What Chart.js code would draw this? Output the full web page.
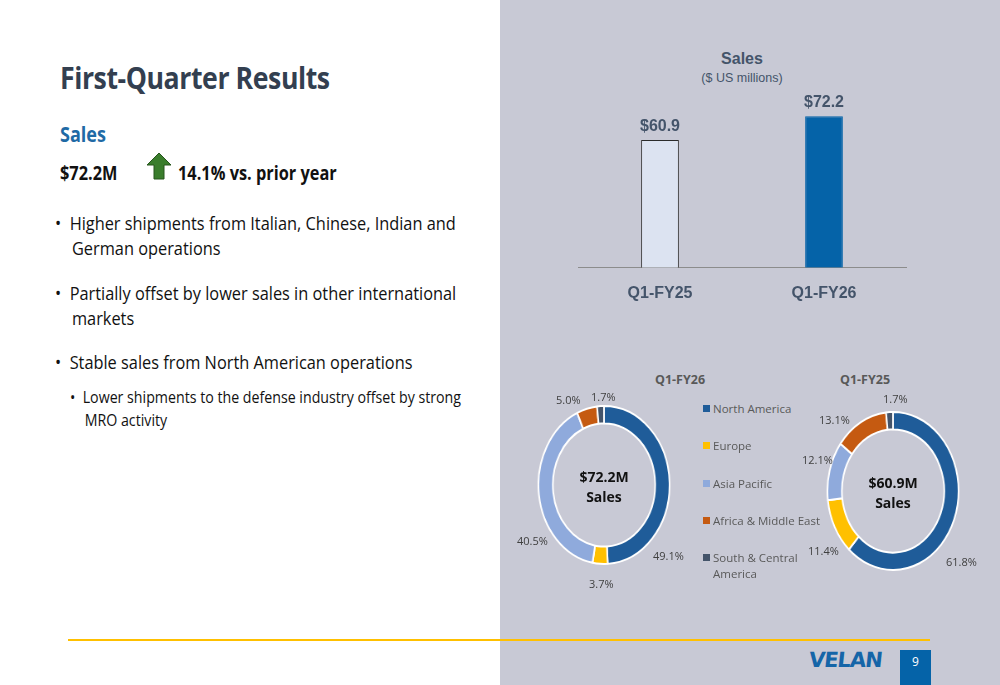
<!DOCTYPE html>
<html><head><meta charset="utf-8">
<script src="https://cdn.jsdelivr.net/npm/chart.js@4"></script>
<style>
body{margin:0;width:1000px;height:685px;position:relative;overflow:hidden;font-family:"Open Sans",Calibri,sans-serif;background:#fff}
.abs{position:absolute}
#right{left:500px;top:0;width:500px;height:685px;background:#c8c9d5}
h1{position:absolute;left:60px;top:56px;margin:0;font-size:31px;color:#333f50;font-weight:700;letter-spacing:-0.5px;transform:scaleX(0.86);transform-origin:left}
.cal{transform:scaleX(0.86);transform-origin:left}
.b{font-size:19px;color:#111;line-height:25px}
.pct{position:absolute;font-size:11px;color:#404040}
.leg{position:absolute;left:703px;font-size:11.5px;color:#595959;line-height:16px}
.leg i{display:inline-block;width:7px;height:7px;margin-right:3px;vertical-align:1px}
.ctr{position:absolute;font-weight:700;font-size:14px;text-align:center;line-height:20px;color:#111}
</style></head><body>
<div id="right" class="abs"></div>
<h1>First-Quarter Results</h1>
<div class="abs cal" style="left:60px;top:120px;font-size:21px;font-weight:700;color:#1f6aa5">Sales</div>
<div class="abs cal" style="left:60px;top:160px;font-size:19px;font-weight:700;color:#111">$72.2M</div>
<svg class="abs" style="left:146px;top:152px" width="26" height="28" viewBox="0 0 26 28"><path d="M13 1 L25 13 L18 13 L18 27 L8 27 L8 13 L1 13 Z" fill="#3a7d2c" stroke="#27561d" stroke-width="1"/></svg>
<div class="abs cal" style="left:178px;top:160px;font-size:19px;font-weight:700;color:#111">14.1% vs. prior year</div>
<div class="abs b cal" style="left:55px;top:211px">•&nbsp; Higher shipments from Italian, Chinese, Indian and<br>&nbsp;&nbsp;&nbsp;&nbsp;German operations</div>
<div class="abs b cal" style="left:55px;top:281px">•&nbsp; Partially offset by lower sales in other international<br>&nbsp;&nbsp;&nbsp;&nbsp;markets</div>
<div class="abs b cal" style="left:55px;top:350px">•&nbsp; Stable sales from North American operations</div>
<div class="abs cal" style="left:70px;top:385px;font-size:16.5px;line-height:23px;color:#111">•&nbsp; Lower shipments to the defense industry offset by strong<br>&nbsp;&nbsp;&nbsp;&nbsp;MRO activity</div>

<div class="abs" style="left:578px;top:50px;width:328px;text-align:center;font-family:Arial,'Liberation Sans';color:#44546a"><div style="font-weight:700;font-size:16px">Sales</div><div style="font-size:12.5px;margin-top:3px">($ US millions)</div></div>
<div class="abs" style="left:570px;top:80px;width:345px;height:239px"><canvas id="bar" width="345" height="239"></canvas></div>

<div class="abs" style="left:655px;top:371px;font-weight:700;font-size:12.5px;color:#595959">Q1-FY26</div>
<div class="abs" style="left:840px;top:371px;font-weight:700;font-size:12.5px;color:#595959">Q1-FY25</div>
<div class="abs" style="left:524px;top:405px;width:160px;height:160px;transform:scaleX(0.83);transform-origin:center"><canvas id="d1" width="160" height="160"></canvas></div>
<div class="abs" style="left:813px;top:411px;width:160px;height:160px;transform:scaleX(0.83);transform-origin:center"><canvas id="d2" width="160" height="160"></canvas></div>
<div class="ctr" style="left:564px;top:467px;width:80px">$72.2M<br>Sales</div>
<div class="ctr" style="left:853px;top:473px;width:80px">$60.9M<br>Sales</div>
<div id="legend"></div>
<div id="labels"></div>

<div class="abs" style="left:68px;top:639px;width:862px;height:2px;background:#ffc000"></div>
<div class="abs" style="left:809px;top:648px;font-family:'DejaVu Sans';font-weight:700;font-size:21px;color:#1565a8;letter-spacing:-1px;transform:skewX(-6deg)">VELAN</div>
<div class="abs" style="left:900px;top:650px;width:31px;height:35px;background:#0563a8;color:#fff;font-size:12px;text-align:center;line-height:24px">9</div>
<script>
const barLabels = ["Q1-FY25", "Q1-FY26"];
const barValues = [60.9, 72.2];
const regions = ["North America", "Europe", "Asia Pacific", "Africa & Middle East", "South & Central America"];
const regionColors = ["#1f5c99", "#ffc000", "#8faadc", "#c55a11", "#44546a"];
const fy26Share = [49.1, 3.7, 40.5, 5.0, 1.7];
const fy25Share = [61.8, 11.4, 12.1, 13.1, 1.7];
// label positions, in page pixels
const fy26LabelPos = [[653, 548], [589, 576], [517, 533], [556, 392], [591, 389]];
const fy25LabelPos = [[946, 554], [808, 543], [802, 452], [819, 412], [883, 391]];

const valueLabels = {
  id: "valueLabels",
  afterDatasetsDraw(chart) {
    const ctx = chart.ctx;
    ctx.save();
    ctx.font = "bold 16px Arial, 'Liberation Sans'";
    ctx.fillStyle = "#44546a";
    ctx.textAlign = "center";
    chart.getDatasetMeta(0).data.forEach((bar, i) => {
      ctx.fillText("$" + barValues[i].toFixed(1), bar.x, bar.y - 9);
    });
    ctx.restore();
  }
};

new Chart(document.getElementById("bar"), {
  type: "bar",
  data: {
    labels: barLabels,
    datasets: [{
      data: barValues,
      backgroundColor: ["#dce3f1", "#0563a8"],
      borderColor: ["#2b2b2b", "#0563a8"],
      borderWidth: 1,
      barPercentage: 0.23,
      categoryPercentage: 1
    }]
  },
  options: {
    responsive: false,
    animation: false,
    layout: { padding: { left: 8, right: 9, top: 20 } },
    plugins: { legend: { display: false }, tooltip: { enabled: false } },
    scales: {
      x: {
        grid: { display: false, drawTicks: false },
        border: { color: "#8c8c8c" },
        ticks: { color: "#44546a", padding: 16, font: { family: "Arial, 'Liberation Sans'", weight: "bold", size: 16 } }
      },
      y: { display: false, min: 0, max: 80 }
    }
  },
  plugins: [valueLabels]
});

function donut(id, values) {
  new Chart(document.getElementById(id), {
    type: "doughnut",
    data: { labels: regions, datasets: [{ data: values, backgroundColor: regionColors, borderColor: "#ffffff", borderWidth: 2 }] },
    options: {
      responsive: false,
      animation: false,
      cutout: "78%",
      plugins: { legend: { display: false }, tooltip: { enabled: false } }
    }
  });
}
donut("d1", fy26Share);
donut("d2", fy25Share);

let html = "";
fy26Share.forEach((v, i) => html += `<div class="pct" style="left:${fy26LabelPos[i][0]}px;top:${fy26LabelPos[i][1]}px">${v.toFixed(1)}%</div>`);
fy25Share.forEach((v, i) => html += `<div class="pct" style="left:${fy25LabelPos[i][0]}px;top:${fy25LabelPos[i][1]}px">${v.toFixed(1)}%</div>`);
document.getElementById("labels").innerHTML = html;

const legendTops = [401, 438, 476, 513, 550];
document.getElementById("legend").innerHTML = regions.map((r, i) =>
  `<div class="leg" style="top:${legendTops[i]}px"><i style="background:${regionColors[i]}"></i>${r === "South & Central America" ? "South &amp; Central<br><span style='padding-left:10px'>America</span>" : r.replace("&", "&amp;")}</div>`
).join("");
</script>
</body></html>
